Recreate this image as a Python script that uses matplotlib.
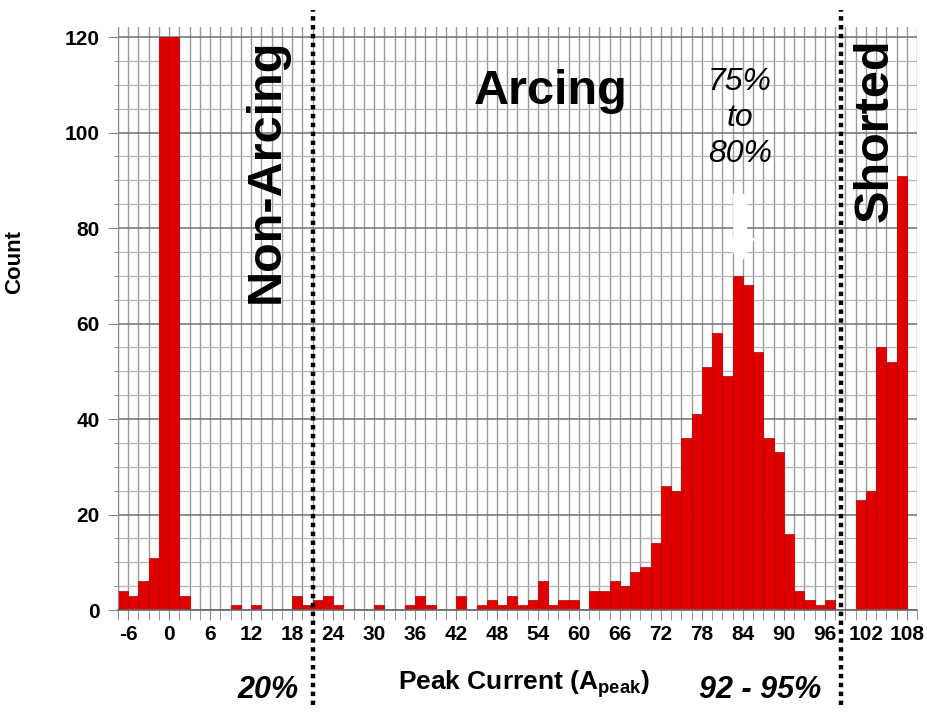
#! /usr/bin/env python3

import numpy as np
import matplotlib
matplotlib.use("Agg")
import matplotlib.pyplot as plt
from matplotlib.ticker import MultipleLocator

plt.rcParams['font.family'] = ['Liberation Sans', 'DejaVu Sans']
plt.rcParams['mathtext.default'] = 'regular'
plt.rcParams['axes.unicode_minus'] = False

# histogram: left bin edge (A) and count, bins 1.5 A wide
bin_start = -7.5
bin_width = 1.5
counts = [4, 3, 6, 11, 120, 120, 3, 0, 0, 0,
          0, 1, 0, 1, 0, 0, 0, 3, 1, 2,
          3, 1, 0, 0, 0, 1, 0, 0, 1, 3,
          1, 0, 0, 3, 0, 1, 2, 1, 3, 1,
          2, 6, 1, 2, 2, 0, 4, 4, 6, 5,
          8, 9, 14, 26, 25, 36, 41, 51, 58, 49,
          70, 68, 54, 36, 33, 16, 4, 2, 1, 2,
          0, 0, 23, 25, 55, 52, 91, 0]
x_ticks = list(range(-6, 109, 6))
boundaries = [21, 98.4]

edges = bin_start + bin_width * np.arange(len(counts))

fig = plt.figure(figsize=(9.27, 7.17), dpi=100)
ax = fig.add_axes([0.1273, 0.1492, 0.8619, 0.8131])

ax.bar(edges, counts, width=bin_width, align='edge', color='#E00000',
       edgecolor='#B00000', linewidth=0.5, zorder=2)

ax.set_xlim(bin_start, bin_start + bin_width * len(counts))
ax.set_ylim(0, 122.1)

# grid: every bin edge vertically, every 5 counts horizontally
ax.xaxis.set_major_locator(plt.FixedLocator(x_ticks))
ax.xaxis.set_minor_locator(MultipleLocator(bin_width))
ax.yaxis.set_major_locator(MultipleLocator(20))
ax.yaxis.set_minor_locator(MultipleLocator(5))
ax.grid(True, which='minor', axis='x', color='#9a9a9a', linewidth=1.0)
ax.grid(True, which='major', axis='x', color='#9a9a9a', linewidth=1.0)
ax.grid(True, which='major', axis='y', color='#7a7a7a', linewidth=1.2)
ax.grid(True, which='minor', axis='y', color='#b5b5b5', linewidth=0.9)
ax.set_axisbelow(True)

for s in ['top', 'right']:
    ax.spines[s].set_visible(False)
ax.spines['left'].set_color('#888888')
ax.spines['bottom'].set_color('#666666')
ax.spines['bottom'].set_linewidth(1.2)

ax.tick_params(axis='x', which='both', length=7, color='#888888', pad=4)
ax.tick_params(axis='y', which='major', length=7, color='#888888', pad=6)
ax.tick_params(axis='y', which='minor', length=3, color='#888888')
for lbl in ax.get_xticklabels() + ax.get_yticklabels():
    lbl.set_fontsize(15)
    lbl.set_fontweight('bold')

ax.set_ylabel("Count", fontsize=16, fontweight='bold')
ax.yaxis.set_label_coords(-0.116, 0.597)
ax.set_xlabel("Peak Current (A$_{peak}$)", fontsize=19, fontweight='bold')
ax.xaxis.set_label_coords(0.508, -0.128)
ax.xaxis.label.set_verticalalignment('center')

# dotted region boundaries
for b in boundaries:
    ax.axvline(b, ymin=-0.163, ymax=1.03, color='black', linewidth=3.2,
               linestyle=(0, (1, 1.0)), clip_on=False, zorder=5)

ax.text(14.2, 92, "Non-Arcing", rotation=90, ha='center', va='center',
        fontsize=35, fontweight='bold', zorder=6)
ax.text(55.9, 108.5, "Arcing", ha='center', va='center',
        fontsize=35, fontweight='bold', zorder=6)
ax.text(103.4, 100.5, "Shorted", rotation=90, ha='center', va='center',
        fontsize=35, fontweight='bold', zorder=6)
ax.text(83.6, 103, "75%\nto\n80%", ha='center', va='center',
        fontsize=23, fontstyle='italic', linespacing=1.25, zorder=6)
ax.annotate("", xy=(83.6, 72.5), xytext=(83.6, 87),
            arrowprops=dict(facecolor='white', edgecolor='white', width=9,
                            headwidth=20, headlength=18), zorder=4)

fig.text(0.289, 0.0377, "20%", ha='center', va='center', fontsize=22,
         fontweight='bold', fontstyle='italic')
fig.text(0.820, 0.0377, "92 - 95%", ha='center', va='center', fontsize=22,
         fontweight='bold', fontstyle='italic')

fig.savefig('out.png', dpi=100)
